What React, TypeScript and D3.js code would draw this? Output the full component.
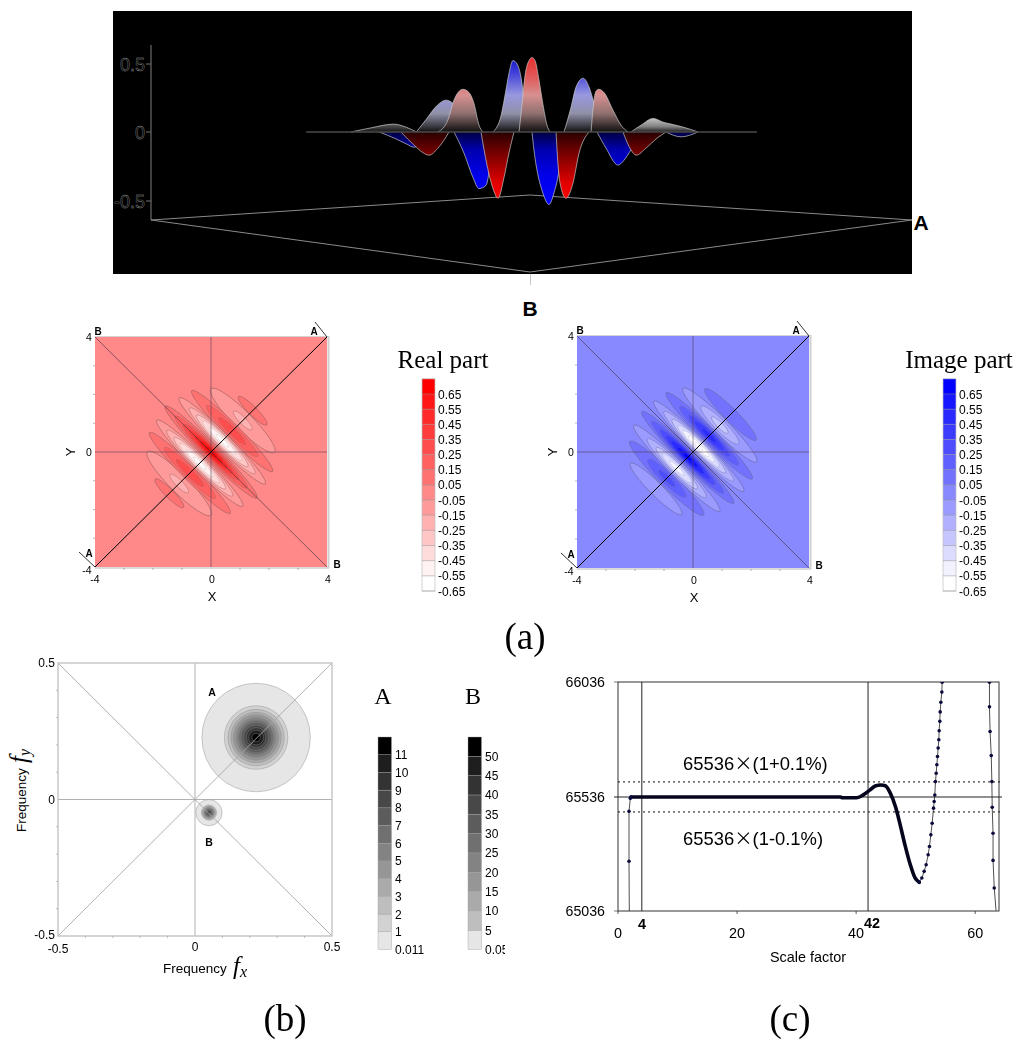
import { curveMonotoneX, line, scaleLinear, scaleThreshold } from "d3";

const SANS = "'Liberation Sans', Arial, sans-serif";
const SERIF = "'Liberation Serif', 'Times New Roman', serif";

type Pt = [number, number];
type Contour = [number, number, number, number];

// top panel: profile along the A-A section, [position, value]
const grayUpLeft: Pt[] = [[-1.9, 0], [-1.69, 0.03], [-1.45, 0.058], [-1.32, 0.036], [-1.21, 0]];
const grayUpRight: Pt[] = [[1.046, 0], [1.151, 0.05], [1.278, 0.1], [1.393, 0.07], [1.467, 0.058], [1.593, 0.036], [1.751, 0]];
const blueUp: Pt[][] = [
  [[-1.21, 0], [-1.11, 0.09], [-0.985, 0.2], [-0.9, 0.234], [-0.825, 0.21], [-0.74, 0.1], [-0.636, 0]],
  [[-0.405, 0], [-0.32, 0.12], [-0.268, 0.31], [-0.237, 0.43], [-0.195, 0.525], [-0.152, 0.5], [-0.11, 0.4], [-0.047, 0]],
  [[0.342, 0], [0.415, 0.18], [0.468, 0.33], [0.542, 0.395], [0.605, 0.33], [0.657, 0.21], [0.731, 0]],
];
const redUp: Pt[][] = [
  [[-0.983, 0], [-0.878, 0.09], [-0.815, 0.234], [-0.72, 0.314], [-0.657, 0.29], [-0.605, 0.21], [-0.552, 0.05], [-0.51, 0]],
  [[-0.131, 0], [-0.1, 0.2], [-0.068, 0.415], [-0.026, 0.525], [0.005, 0.547], [0.037, 0.525], [0.079, 0.38], [0.121, 0.2], [0.163, 0.05], [0.195, 0]],
  [[0.626, 0], [0.657, 0.234], [0.678, 0.3], [0.71, 0.314], [0.762, 0.29], [0.857, 0.16], [0.941, 0.05], [1.015, 0]],
];
const blueDown: Pt[][] = [
  [[-1.6, 0], [-1.425, -0.05], [-1.32, -0.085], [-1.235, -0.11], [-1.11, -0.04], [-1.0, 0]],
  [[-0.815, 0], [-0.71, -0.153], [-0.615, -0.33], [-0.552, -0.41], [-0.478, -0.387], [-0.426, -0.2], [-0.373, 0]],
  [[0.005, 0], [0.026, -0.13], [0.121, -0.445], [0.184, -0.525], [0.237, -0.44], [0.289, -0.277], [0.331, 0]],
  [[0.689, 0], [0.783, -0.117], [0.91, -0.24], [0.973, -0.204], [1.046, -0.13], [1.183, 0]],
  [[1.414, 0], [1.572, -0.035], [1.75, 0]],
];
const redDown: Pt[][] = [
  [[-1.372, 0], [-1.235, -0.095], [-1.14, -0.15], [-1.078, -0.168], [-0.983, -0.117], [-0.867, 0]],
  [[-0.531, 0], [-0.468, -0.24], [-0.405, -0.41], [-0.352, -0.48], [-0.289, -0.33], [-0.237, -0.153], [-0.184, 0]],
  [[0.258, 0], [0.279, -0.24], [0.3, -0.37], [0.363, -0.48], [0.436, -0.37], [0.5, -0.153], [0.605, 0]],
  [[0.962, 0], [1.046, -0.13], [1.1, -0.168], [1.204, -0.117], [1.31, -0.05], [1.414, 0]],
];

// contour lobes: [offset along the A diagonal, half length, half width, level]
const realContours: Contour[] = [
  [2.03, 0.69, 0.15, 0.05], [-2.03, 0.69, 0.15, 0.05],
  [1.55, 1.55, 0.31, -0.05], [1.55, 0.45, 0.12, -0.15], [-1.55, 1.55, 0.31, -0.05], [-1.55, 0.45, 0.12, -0.15],
  [1.03, 1.97, 0.25, 0.05], [1.03, 1.24, 0.19, 0.15], [1.03, 0.65, 0.12, 0.25],
  [-1.03, 1.97, 0.25, 0.05], [-1.03, 1.24, 0.19, 0.15], [-1.03, 0.65, 0.12, 0.25],
  [0.55, 2.1, 0.26, -0.05], [0.55, 1.6, 0.22, -0.15], [0.55, 1.25, 0.19, -0.25], [0.55, 0.95, 0.15, -0.35], [0.55, 0.65, 0.11, -0.45], [0.55, 0.3, 0.06, -0.55],
  [-0.55, 2.1, 0.26, -0.05], [-0.55, 1.6, 0.22, -0.15], [-0.55, 1.25, 0.19, -0.25], [-0.55, 0.95, 0.15, -0.35], [-0.55, 0.65, 0.11, -0.45], [-0.55, 0.3, 0.06, -0.55],
  [0, 2.24, 0.26, 0.05], [0, 1.75, 0.22, 0.15], [0, 1.35, 0.19, 0.25], [0, 1.05, 0.16, 0.35], [0, 0.8, 0.13, 0.45], [0, 0.55, 0.1, 0.55], [0, 0.3, 0.06, 0.65],
];
const imageContours: Contour[] = [
  [1.83, 1.25, 0.22, 0.05], [-1.8, 1.25, 0.22, -0.05],
  [1.31, 1.8, 0.27, -0.05], [1.31, 0.92, 0.19, -0.15], [1.31, 0.4, 0.1, -0.25],
  [-1.28, 1.8, 0.27, 0.05], [-1.28, 0.92, 0.19, 0.15], [-1.28, 0.4, 0.1, 0.25],
  [0.79, 2.1, 0.26, 0.05], [0.79, 1.43, 0.21, 0.15], [0.79, 1.0, 0.17, 0.25], [0.79, 0.7, 0.13, 0.35], [0.79, 0.35, 0.07, 0.45],
  [-0.79, 2.1, 0.26, -0.05], [-0.79, 1.43, 0.21, -0.15], [-0.79, 1.0, 0.17, -0.25], [-0.79, 0.7, 0.13, -0.35], [-0.79, 0.35, 0.07, -0.45],
  [0.28, 2.2, 0.26, -0.05], [0.28, 1.7, 0.22, -0.15], [0.28, 1.3, 0.19, -0.25], [0.28, 1.0, 0.16, -0.35], [0.28, 0.75, 0.13, -0.45], [0.28, 0.5, 0.09, -0.55], [0.28, 0.2, 0.05, -0.65],
  [-0.26, 2.24, 0.26, 0.05], [-0.26, 1.75, 0.22, 0.15], [-0.26, 1.35, 0.19, 0.25], [-0.26, 1.05, 0.16, 0.35], [-0.26, 0.8, 0.13, 0.45], [-0.26, 0.5, 0.09, 0.55], [-0.26, 0.2, 0.05, 0.65],
];
const levelTicks = [0.65, 0.55, 0.45, 0.35, 0.25, 0.15, 0.05, -0.05, -0.15, -0.25, -0.35, -0.45, -0.55, -0.65];
const levelBins = [-0.55, -0.45, -0.35, -0.25, -0.15, -0.05, 0.05, 0.15, 0.25, 0.35, 0.45, 0.55, 0.65];
const redRamp = ["#ffffff", "#fff2f2", "#ffdcdc", "#ffc6c6", "#ffb0b0", "#ff9a9a", "#ff8888", "#ff7272", "#ff6060", "#ff4e4e", "#ff3c3c", "#ff2a2a", "#ff1616", "#ff0000"];
const blueRamp = ["#ffffff", "#f2f2ff", "#dcdcff", "#c6c6ff", "#b0b0ff", "#9a9aff", "#8888ff", "#7272ff", "#6060ff", "#4e4eff", "#3c3cff", "#2a2aff", "#1616ff", "#0000ff"];

// panel (b)
const grayRamp = ["#e6e6e6", "#d2d2d2", "#bebebe", "#aaaaaa", "#969696", "#838383", "#707070", "#5c5c5c", "#484848", "#333333", "#1e1e1e", "#000000"];
const peakA: Pt = [0.223, 0.227];
const peakB: Pt = [0.051, -0.048];
const ringsA = [0.198, 0.116, 0.103, 0.092, 0.083, 0.073, 0.064, 0.056, 0.046, 0.036, 0.027, 0.015];
const ringsB = [0.048, 0.028, 0.025, 0.022, 0.02, 0.017, 0.015, 0.013, 0.01, 0.007, 0.004];
const barATicks = [1, 2, 3, 4, 5, 6, 7, 8, 9, 10, 11];
const barBTicks = [5, 10, 15, 20, 25, 30, 35, 40, 45, 50];

// panel (c)
const NOMINAL = 65536;
const entrySeries: Pt[] = [[1.9, 65036], [1.85, 65254], [1.85, 65473], [2.07, 65530], [2.2, 65536]];
const plateauSeries: Pt[] = [[2.2, 65536], [20, 65536], [37.4, 65536], [37.6, 65533], [40.1, 65533], [41.2, 65545], [42.35, 65567], [43.2, 65584], [44.15, 65588], [44.9, 65585], [45.7, 65555], [46.6, 65494], [47.4, 65414], [48.2, 65326], [49.1, 65239], [49.9, 65181], [50.6, 65162]];
const risingSeries: Pt[] = [[50.59, 65162], [51.04, 65181], [51.43, 65210], [51.76, 65239], [52.1, 65283], [52.32, 65319], [52.55, 65370], [52.77, 65421], [53.0, 65487], [53.11, 65516], [53.22, 65545], [53.33, 65603], [53.45, 65639], [53.56, 65676], [53.67, 65712], [53.78, 65749], [53.89, 65785], [53.95, 65824], [54.06, 65865], [54.12, 65906], [54.23, 65948], [54.4, 65992], [54.45, 66035]];
const returnSeries: Pt[] = [[62.4, 66035], [62.4, 65928], [62.5, 65821], [62.7, 65716], [62.8, 65603], [62.86, 65491], [63.0, 65377], [63.0, 65258], [63.2, 65137], [63.5, 65038]];

function Surface() {
  const sx = scaleLinear().domain([-4, 4]).range([151, 912]);
  const sy = scaleLinear().domain([-0.5, 0, 0.5]).range([201, 132, 64]);
  const edge = line<Pt>().x((d) => sx(d[0])).y((d) => sy(d[1])).curve(curveMonotoneX);
  const lobe = (pts: Pt[], fill: string, key: string) => (
    <g key={key}>
      <path d={edge(pts) + "Z"} fill={fill} />
      <path d={edge(pts) ?? ""} fill="none" stroke="#c8c8c8" strokeWidth={0.7} />
    </g>
  );
  return (
    <g>
      <defs>
        <linearGradient id="upBlue" gradientUnits="userSpaceOnUse" x1={0} x2={0} y1={58} y2={132}>
          <stop offset="0" stopColor="#1818c8" />
          <stop offset="0.2" stopColor="#4040d8" />
          <stop offset="0.5" stopColor="#9898e0" />
          <stop offset="0.75" stopColor="#9090a8" />
          <stop offset="0.92" stopColor="#3c3c44" />
          <stop offset="1" stopColor="#101010" />
        </linearGradient>
        <linearGradient id="upRed" gradientUnits="userSpaceOnUse" x1={0} x2={0} y1={58} y2={132}>
          <stop offset="0" stopColor="#e83030" />
          <stop offset="0.25" stopColor="#e05858" />
          <stop offset="0.5" stopColor="#d89090" />
          <stop offset="0.75" stopColor="#907070" />
          <stop offset="0.92" stopColor="#382c2c" />
          <stop offset="1" stopColor="#101010" />
        </linearGradient>
        <linearGradient id="upGray" x1={0} x2={0} y1={0} y2={1}>
          <stop offset="0" stopColor="#c4c4c4" />
          <stop offset="0.6" stopColor="#808080" />
          <stop offset="1" stopColor="#202020" />
        </linearGradient>
        <linearGradient id="upGrayDim" x1={0} x2={0} y1={0} y2={1}>
          <stop offset="0" stopColor="#5c5c5c" />
          <stop offset="1" stopColor="#141414" />
        </linearGradient>
        <linearGradient id="downBlue" gradientUnits="userSpaceOnUse" x1={0} x2={0} y1={132} y2={204}>
          <stop offset="0" stopColor="#000040" />
          <stop offset="0.25" stopColor="#0000b0" />
          <stop offset="0.6" stopColor="#0000e8" />
          <stop offset="1" stopColor="#0000ff" />
        </linearGradient>
        <linearGradient id="downRed" gradientUnits="userSpaceOnUse" x1={0} x2={0} y1={132} y2={200}>
          <stop offset="0" stopColor="#280000" />
          <stop offset="0.35" stopColor="#800000" />
          <stop offset="0.75" stopColor="#e00000" />
          <stop offset="1" stopColor="#ff0000" />
        </linearGradient>
      </defs>
      <rect x={113} y={11} width={799} height={263} fill="#000" />
      <line x1={151} x2={151} y1={45} y2={220} stroke="#808080" />
      {[0.5, 0, -0.5].map((t) => (
        <g key={t}>
          <line x1={146} x2={151} y1={sy(t)} y2={sy(t)} stroke="#707070" />
          <text x={145} y={sy(t) + 7} textAnchor="end" fontFamily={SANS} fontSize={18} fill="#000" stroke="#a0a0a0" strokeWidth={0.35}>{t}</text>
        </g>
      ))}
      <polygon points="151,220 530,195 912,220 530,272" fill="none" stroke="#8a8a8a" strokeWidth={1} />
      <line x1={530.5} x2={530.5} y1={274} y2={285} stroke="#c8c8c8" strokeWidth={1} />
      {blueDown.map((p, i) => lobe(p, "url(#downBlue)", `bd${i}`))}
      {redDown.map((p, i) => lobe(p, "url(#downRed)", `rd${i}`))}
      {lobe(grayUpLeft, "url(#upGrayDim)", "gl")}
      {lobe(grayUpRight, "url(#upGray)", "gr")}
      {blueUp.map((p, i) => lobe(p, "url(#upBlue)", `bu${i}`))}
      {redUp.map((p, i) => lobe(p, "url(#upRed)", `ru${i}`))}
      <line x1={sx(-2.37)} x2={sx(2.37)} y1={132} y2={132} stroke="#4a4a4a" strokeWidth={1.4} />
      <text x={921} y={229.5} textAnchor="middle" fontFamily={SANS} fontWeight={700} fontSize={21}>A</text>
      <text x={530} y={315.5} textAnchor="middle" fontFamily={SANS} fontWeight={700} fontSize={21}>B</text>
    </g>
  );
}

interface ContourProps {
  id: string;
  left: number;
  right: number;
  top: number;
  bottom: number;
  contours: Contour[];
  ramp: string[];
  lineColor: string;
}

function ContourPanel({ id, left, right, top, bottom, contours, ramp, lineColor }: ContourProps) {
  const x = scaleLinear().domain([-4, 4]).range([left, right]);
  const y = scaleLinear().domain([-4, 4]).range([bottom, top]);
  const color = scaleThreshold<number, string>().domain(levelBins).range(ramp);
  const k = (right - left) / 8;
  const minor = [-3, -2, -1, 1, 2, 3];
  return (
    <g>
      <defs>
        <filter id={id} x="-5%" y="-5%" width="110%" height="110%">
          <feGaussianBlur stdDeviation={0.7} />
        </filter>
      </defs>
      <rect x={x(-4)} y={y(4)} width={right - left} height={bottom - top} fill={ramp[6]} />
      <g filter={`url(#${id})`}>
        {contours.map(([u, long, short, level], i) => {
          const cx = x(u / Math.SQRT2);
          const cy = y(u / Math.SQRT2);
          // the outer contour of a lobe keeps a visible line, the inner ones melt into the shading
          return (
            <ellipse
              key={i}
              cx={cx}
              cy={cy}
              rx={long * k}
              ry={short * k}
              transform={`rotate(45 ${cx} ${cy})`}
              fill={color(level > 0 ? level + 0.01 : level - 0.01)}
              stroke={lineColor}
              strokeOpacity={Math.abs(level) < 0.1 ? 0.9 : Math.abs(level) < 0.3 ? 0.6 : 0.25}
              strokeWidth={0.7}
            />
          );
        })}
      </g>
      <rect x={left} y={top - 1} width={right - left + 2} height={1} fill="#d4d4d4" />
      <line x1={right + 1.5} x2={right + 1.5} y1={top - 1} y2={bottom + 1} stroke="#cfcfcf" strokeWidth={2} />
      <line x1={left} x2={right + 2} y1={bottom + 1} y2={bottom + 1} stroke="#cfcfcf" strokeWidth={1.5} />
      <line x1={x(0)} x2={x(0)} y1={top} y2={bottom} stroke="#503c50" strokeOpacity={0.55} strokeWidth={1} />
      <line x1={left} x2={right} y1={y(0)} y2={y(0)} stroke="#503c50" strokeOpacity={0.55} strokeWidth={1} />
      <line x1={x(-4)} x2={x(4)} y1={y(4)} y2={y(-4)} stroke="#3c2c3c" strokeOpacity={0.75} strokeWidth={0.8} />
      <line x1={x(-4)} x2={x(4)} y1={y(-4)} y2={y(4)} stroke="#000" strokeWidth={1} />
      <line x1={x(4)} x2={x(4) - 12} y1={y(4)} y2={y(4) - 15} stroke="#000" strokeWidth={0.8} />
      <line x1={x(-4)} x2={x(-4) - 16} y1={y(-4)} y2={y(-4) - 15} stroke="#000" strokeWidth={0.8} />
      {minor.map((t) => (
        <g key={t} stroke="#888" strokeWidth={0.6}>
          <line x1={x(t)} x2={x(t)} y1={bottom + 1} y2={bottom + 3} />
          <line x1={left - 2} x2={left} y1={y(t)} y2={y(t)} />
        </g>
      ))}
      <g fontFamily={SANS} fontSize={10.5} textAnchor="middle">
        <text x={x(-4)} y={bottom + 15.5}>-4</text>
        <text x={x(0) + 1} y={bottom + 15.5}>0</text>
        <text x={x(4) + 1} y={bottom + 15.5}>4</text>
        <text x={left - 6} y={top + 4}>4</text>
        <text x={left - 6} y={y(0) + 4}>0</text>
        <text x={left - 8} y={bottom + 7}>-4</text>
        <text x={x(0) + 1} y={bottom + 34} fontSize={13}>X</text>
        <text transform={`translate(${left - 24},${y(0)}) rotate(-90)`} y={4} fontSize={13}>Y</text>
      </g>
      <g fontFamily={SANS} fontSize={10} fontWeight={700} textAnchor="middle">
        <text x={left + 3} y={top - 2}>B</text>
        <text x={right - 13} y={top - 2}>A</text>
        <text x={left - 6} y={bottom - 10}>A</text>
        <text x={right + 10} y={bottom + 1}>B</text>
      </g>
    </g>
  );
}

function LevelBar({ x0, title, titleX, ramp }: { x0: number; title: string; titleX: number; ramp: string[] }) {
  const y = scaleLinear().domain([-0.65, 0.65]).range([591, 394]);
  const edges = [-0.65, ...levelBins, 0.75];
  return (
    <g>
      <text x={titleX} y={368} textAnchor="middle" fontFamily={SERIF} fontSize={25}>{title}</text>
      {ramp.map((c, i) => (
        <rect key={i} x={x0} y={y(edges[i + 1])} width={13} height={y(edges[i]) - y(edges[i + 1])} fill={c} />
      ))}
      <rect x={x0} y={y(0.75)} width={13} height={y(-0.65) - y(0.75)} fill="none" stroke="#bdbdbd" strokeWidth={0.7} />
      {levelTicks.map((t) => (
        <g key={t}>
          <line x1={x0} x2={x0 + 13} y1={y(t)} y2={y(t)} stroke="#8c8c8c" strokeOpacity={0.7} strokeWidth={0.7} />
          <text x={x0 + 16} y={y(t) + 4.5} fontFamily={SANS} fontSize={12}>{t.toFixed(2)}</text>
        </g>
      ))}
    </g>
  );
}

function SpectrumPanel() {
  const x = scaleLinear().domain([-0.5, 0.5]).range([58, 332]);
  const y = scaleLinear().domain([-0.5, 0.5]).range([936, 663]);
  const k = (332 - 58) / 1;
  const minor = [-0.4, -0.3, -0.2, -0.1, 0.1, 0.2, 0.3, 0.4];
  const rings = (peak: Pt, radii: number[], key: string) =>
    radii.map((r, i) => (
      <circle key={key + i} cx={x(peak[0])} cy={y(peak[1])} r={r * k} fill={grayRamp[i]} stroke="#8a8a8a" strokeOpacity={0.7} strokeWidth={0.6} />
    ));
  return (
    <g>
      {rings(peakA, ringsA, "a")}
      {rings(peakB, ringsB, "b")}
      <g stroke="#a8a8a8" strokeWidth={0.9} fill="none">
        <line x1={x(0)} x2={x(0)} y1={663} y2={936} />
        <line x1={58} x2={332} y1={y(0)} y2={y(0)} />
        <line x1={58} x2={332} y1={936} y2={663} />
        <line x1={58} x2={332} y1={663} y2={936} />
      </g>
      <rect x={58} y={663} width={274} height={273} fill="none" stroke="#c4c4c4" strokeWidth={1.4} />
      {minor.map((t) => (
        <g key={t} stroke="#999" strokeWidth={0.6}>
          <line x1={x(t)} x2={x(t)} y1={936} y2={938} />
          <line x1={56} x2={58} y1={y(t)} y2={y(t)} />
        </g>
      ))}
      <g fontFamily={SANS} fontSize={12} textAnchor="middle">
        <text x={x(-0.5)} y={952.5}>-0.5</text>
        <text x={x(0)} y={951}>0</text>
        <text x={x(0.5)} y={951}>0.5</text>
        <text x={55} y={667} textAnchor="end">0.5</text>
        <text x={55} y={804} textAnchor="end">0</text>
        <text x={55} y={938.5} textAnchor="end">-0.5</text>
      </g>
      <text x={212} y={696} textAnchor="middle" fontFamily={SANS} fontSize={10.5} fontWeight={700}>A</text>
      <text x={209} y={846} textAnchor="middle" fontFamily={SANS} fontSize={10.5} fontWeight={700}>B</text>
      <text x={163} y={973} fontFamily={SANS} fontSize={13.5}>Frequency</text>
      <text x={233} y={974} fontFamily={SERIF} fontStyle="italic" fontSize={25}>f<tspan fontSize={16} dy={3}>x</tspan></text>
      <g transform="translate(26,832) rotate(-90)">
        <text x={0} y={0} fontFamily={SANS} fontSize={13.5}>Frequency</text>
        <text x={69} y={1} fontFamily={SERIF} fontStyle="italic" fontSize={25}>f<tspan fontSize={16} dy={3}>y</tspan></text>
      </g>
    </g>
  );
}

function GrayBar({ x0, title, domainMax, ticks, bottomLabel, clipId }: { x0: number; title: string; domainMax: number; ticks: number[]; bottomLabel: string; clipId?: string }) {
  const y = scaleLinear().domain([0, domainMax]).range([949.5, 737]);
  const edges = [0, ...ticks, domainMax];
  const offset = edges.length - 1 === 12 ? 0 : 1;
  return (
    <g>
      <text x={x0 + 5} y={704} textAnchor="middle" fontFamily={SERIF} fontSize={24}>{title}</text>
      {edges.slice(0, -1).map((e, i) => (
        <rect key={e} x={x0} y={y(edges[i + 1])} width={13.5} height={y(e) - y(edges[i + 1])} fill={grayRamp[i === 0 ? 0 : i + offset]} stroke="#a0a0a0" strokeWidth={0.4} />
      ))}
      <g fontFamily={SANS} fontSize={12} clipPath={clipId ? `url(#${clipId})` : undefined}>
        {ticks.map((t) => (
          <text key={t} x={x0 + 17} y={y(t) + 4.5}>{t}</text>
        ))}
        <text x={x0 + 17} y={954}>{bottomLabel}</text>
      </g>
    </g>
  );
}

function ScalePanel() {
  const x = scaleLinear().domain([0, 64]).range([618, 999]);
  const y = scaleLinear().domain([65036, 65536, 66036]).range([911, 797, 682]);
  const path = line<Pt>().x((d) => x(d[0])).y((d) => y(d[1]));
  const band = [NOMINAL * 1.001, NOMINAL * 0.999];
  const dots = [...entrySeries.slice(1), ...risingSeries, ...returnSeries.slice(0, -1)];
  return (
    <g>
      <defs>
        <clipPath id="scaleClip">
          <rect x={618} y={682} width={381} height={229} />
        </clipPath>
      </defs>
      <rect x={618} y={682} width={381} height={229} fill="none" stroke="#333" strokeWidth={1} />
      {[4, 42].map((v) => (
        <line key={v} x1={x(v)} x2={x(v)} y1={682} y2={911} stroke="#222" strokeWidth={1} />
      ))}
      <line x1={614} x2={1002} y1={y(NOMINAL)} y2={y(NOMINAL)} stroke="#222" strokeWidth={1} />
      {[66036, 65036].map((t) => (
        <line key={t} x1={614} x2={618} y1={y(t)} y2={y(t)} stroke="#555" strokeWidth={0.8} />
      ))}
      {band.map((v) => (
        <line key={v} x1={618} x2={1000} y1={y(v)} y2={y(v)} stroke="#111" strokeWidth={1} strokeDasharray="2 3" />
      ))}
      <g clipPath="url(#scaleClip)">
        <path d={path(entrySeries) ?? ""} fill="none" stroke="#222" strokeWidth={0.8} />
        <path d={path(risingSeries) ?? ""} fill="none" stroke="#222" strokeWidth={0.8} />
        <path d={path(returnSeries) ?? ""} fill="none" stroke="#222" strokeWidth={0.8} />
        <path d={line<Pt>().x((d) => x(d[0])).y((d) => y(d[1])).curve(curveMonotoneX)(plateauSeries) ?? ""} fill="none" stroke="#05051e" strokeWidth={3.6} strokeLinecap="round" />
        {dots.map((d, i) => (
          <circle key={i} cx={x(d[0])} cy={y(d[1])} r={1.8} fill="#0a0a3c" />
        ))}
      </g>
      {[0, 20, 40, 60].map((t) => (
        <line key={t} x1={x(t)} x2={x(t)} y1={911} y2={914} stroke="#333" strokeWidth={0.8} />
      ))}
      <g fontFamily={SANS} fontSize={14.4} textAnchor="middle">
        {[0, 20, 40, 60].map((t) => (
          <text key={t} x={x(t)} y={938}>{t}</text>
        ))}
        <text x={808} y={962}>Scale factor</text>
        <text x={642} y={929} fontWeight={700}>4</text>
        <text x={872} y={928} fontWeight={700}>42</text>
      </g>
      <g fontFamily={SANS} fontSize={14.2} textAnchor="end">
        {[66036, 65536, 65036].map((t) => (
          <text key={t} x={605} y={y(t) + 5}>{t}</text>
        ))}
      </g>
      <g fontFamily={SANS} fontSize={18.4}>
        <text x={683} y={770}>65536<tspan fontFamily="'Noto Sans CJK SC'">×</tspan>(1+0.1%)</text>
        <text x={683} y={845}>65536<tspan fontFamily="'Noto Sans CJK SC'">×</tspan>(1-0.1%)</text>
      </g>
    </g>
  );
}

export default function App() {
  return (
    <svg width={1024} height={1048} viewBox="0 0 1024 1048" style={{ position: "absolute", left: 0, top: 0, display: "block", background: "#fff" }}>
      <defs>
        <clipPath id="barBClip">
          <rect x={460} y={730} width={45} height={235} />
        </clipPath>
      </defs>
      <Surface />
      <ContourPanel id="softReal" left={95} right={327} top={337} bottom={567} contours={realContours} ramp={redRamp} lineColor="#a06060" />
      <LevelBar x0={422} title="Real part" titleX={443} ramp={redRamp} />
      <ContourPanel id="softImage" left={577} right={809} top={336} bottom={568} contours={imageContours} ramp={blueRamp} lineColor="#6a6aa8" />
      <LevelBar x0={943} title="Image part" titleX={959} ramp={blueRamp} />
      <SpectrumPanel />
      <GrayBar x0={378} title="A" domainMax={12} ticks={barATicks} bottomLabel="0.011" />
      <GrayBar x0={468} title="B" domainMax={55} ticks={barBTicks} bottomLabel="0.05" clipId="barBClip" />
      <ScalePanel />
      <g fontFamily={SERIF} fontSize={37} textAnchor="middle">
        <text x={525} y={649}>(a)</text>
        <text x={285} y={1031}>(b)</text>
        <text x={790} y={1031}>(c)</text>
      </g>
    </svg>
  );
}
